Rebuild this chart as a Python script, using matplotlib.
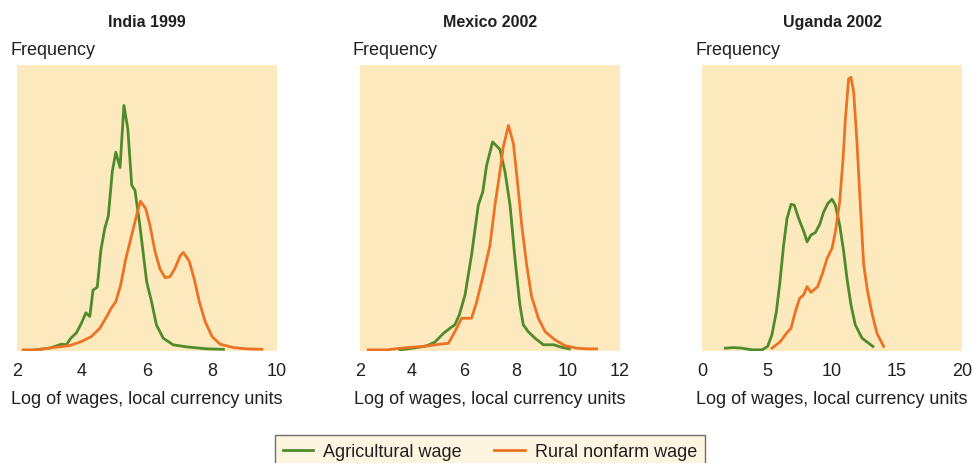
import matplotlib
matplotlib.use("Agg")
from matplotlib import pyplot as plt

plt.rcParams['font.family'] = ['Liberation Sans', 'DejaVu Sans']

GREEN = '#4f8a2b'
ORANGE = '#ec7324'
PANEL_BG = '#fce9bd'
LEGEND_BG = '#fef3da'

# India 1999
india_agri_x = [2.55, 3.0, 3.37, 3.52, 3.65, 3.83, 3.98, 4.12, 4.24, 4.34, 4.47, 4.58, 4.70, 4.81,
                4.93, 5.04, 5.17, 5.29, 5.41, 5.53, 5.63, 5.78, 5.99, 6.14, 6.29, 6.50, 6.81, 7.22,
                7.84, 8.35]
india_agri_y = [0.0, 0.006, 0.02, 0.018, 0.04, 0.06, 0.093, 0.13, 0.117, 0.21, 0.22, 0.35, 0.426,
                0.47, 0.624, 0.694, 0.64, 0.858, 0.776, 0.578, 0.56, 0.437, 0.239, 0.169, 0.0875,
                0.041, 0.0175, 0.0105, 0.0035, 0.002]
india_nonfarm_x = [2.19, 2.6, 3.11, 3.62, 3.98, 4.29, 4.55, 4.76, 4.91, 5.04, 5.19, 5.35, 5.53, 5.68,
                   5.80, 5.96, 6.09, 6.25, 6.40, 6.56, 6.71, 6.86, 7.02, 7.12, 7.30, 7.45, 7.61,
                   7.79, 8.0, 8.25, 8.66, 9.07, 9.54]
india_nonfarm_y = [0.0, 0.0, 0.008, 0.015, 0.029, 0.047, 0.076, 0.117, 0.148, 0.169, 0.228, 0.321,
                   0.403, 0.473, 0.522, 0.496, 0.438, 0.344, 0.284, 0.253, 0.257, 0.286, 0.33,
                   0.342, 0.311, 0.25, 0.169, 0.099, 0.047, 0.02, 0.008, 0.0035, 0.002]

# Mexico 2002
mexico_agri_x = [3.54, 4.05, 4.56, 4.88, 5.21, 5.46, 5.65, 5.82, 6.04, 6.29, 6.55, 6.72, 6.87, 7.10,
                 7.38, 7.58, 7.77, 7.96, 8.15, 8.28, 8.47, 8.73, 9.05, 9.44, 9.76, 10.05]
mexico_agri_y = [0.0, 0.006, 0.014, 0.027, 0.058, 0.076, 0.088, 0.123, 0.193, 0.333, 0.508, 0.554,
                 0.648, 0.73, 0.704, 0.624, 0.508, 0.321, 0.158, 0.088, 0.064, 0.041, 0.018,
                 0.018, 0.009, 0.0035]
mexico_nonfarm_x = [2.32, 3.03, 3.79, 4.31, 4.69, 5.08, 5.40, 5.65, 5.91, 6.29, 6.49, 6.74, 7.0,
                    7.19, 7.38, 7.51, 7.71, 7.90, 8.03, 8.22, 8.41, 8.60, 8.86, 9.12, 9.50, 9.88,
                    10.33, 10.72, 11.1]
mexico_nonfarm_y = [0.0, 0.0, 0.008, 0.011, 0.015, 0.02, 0.023, 0.064, 0.111, 0.111, 0.169, 0.263,
                    0.368, 0.508, 0.624, 0.712, 0.788, 0.724, 0.613, 0.438, 0.298, 0.187, 0.111,
                    0.064, 0.035, 0.015, 0.006, 0.0035, 0.0035]

# Uganda 2002
uganda_agri_x = [1.79, 2.44, 3.08, 3.85, 4.62, 5.05, 5.38, 5.72, 5.97, 6.28, 6.54, 6.85, 7.10, 7.44,
                 7.82, 8.08, 8.38, 8.72, 9.05, 9.36, 9.67, 10.0, 10.26, 10.59, 10.9, 11.15, 11.46,
                 11.79, 12.31, 13.15]
uganda_agri_y = [0.006, 0.008, 0.006, 0.0, 0.0, 0.012, 0.053, 0.134, 0.228, 0.368, 0.461, 0.511,
                 0.508, 0.461, 0.417, 0.379, 0.403, 0.412, 0.44, 0.484, 0.513, 0.529, 0.508,
                 0.438, 0.345, 0.251, 0.158, 0.088, 0.041, 0.012]
uganda_nonfarm_x = [5.38, 6.03, 6.49, 6.85, 7.18, 7.51, 7.82, 8.08, 8.38, 8.90, 9.31, 9.62, 10.0,
                    10.26, 10.59, 10.85, 11.03, 11.28, 11.46, 11.67, 11.92, 12.18, 12.44, 12.74,
                    13.08, 13.46, 13.97]
uganda_nonfarm_y = [0.006, 0.029, 0.058, 0.076, 0.134, 0.181, 0.193, 0.222, 0.202, 0.222, 0.274,
                    0.321, 0.356, 0.414, 0.519, 0.671, 0.811, 0.951, 0.957, 0.904, 0.729, 0.508,
                    0.298, 0.204, 0.128, 0.058, 0.012]

titles = ['India 1999', 'Mexico 2002', 'Uganda 2002']
xlims = [(2, 10), (2, 12), (0, 20)]
xticks = [[2, 4, 6, 8, 10], [2, 4, 6, 8, 10, 12], [0, 5, 10, 15, 20]]
series = [
    (india_agri_x, india_agri_y, india_nonfarm_x, india_nonfarm_y),
    (mexico_agri_x, mexico_agri_y, mexico_nonfarm_x, mexico_nonfarm_y),
    (uganda_agri_x, uganda_agri_y, uganda_nonfarm_x, uganda_nonfarm_y),
]
lefts = [17, 360, 702]

W, H = 972, 464
fig = plt.figure(figsize=(W / 100, H / 100), dpi=100)

for i in range(3):
    ax = fig.add_axes([lefts[i] / W, 112 / H, 260 / W, 286 / H])
    ax.set_facecolor(PANEL_BG)
    ax_x, ax_y, nf_x, nf_y = series[i]
    ax.plot(ax_x, ax_y, color=GREEN, lw=2.0, label='Agricultural wage')
    ax.plot(nf_x, nf_y, color=ORANGE, lw=2.0, label='Rural nonfarm wage')
    ax.set_xlim(*xlims[i])
    ax.set_ylim(-0.004, 1.0)
    ax.set_xticks(xticks[i])
    ax.set_yticks([])
    ax.tick_params(axis='x', length=0, pad=8, labelsize=13, labelcolor='#231f20')
    for s in ax.spines.values():
        s.set_visible(False)
    ax.set_xlabel('Log of wages, local currency units', fontsize=13, color='#231f20', labelpad=8)
    cx = (lefts[i] + 130) / W
    fig.text(cx, 1 - 27 / H, titles[i], ha='center', va='baseline', fontsize=11.5,
             fontweight='bold', color='#231f20')
    fig.text((lefts[i] - 7) / W, 1 - 55 / H, 'Frequency', ha='left', va='baseline',
             fontsize=13, color='#231f20')
    if i == 0:
        handles, labels = ax.get_legend_handles_labels()

leg = fig.legend(handles, labels, loc='upper center', bbox_to_anchor=(490 / W, 1 - 427 / H),
                 ncol=2, frameon=True, fontsize=13, handlelength=1.7, handletextpad=0.55,
                 columnspacing=1.8, borderpad=0.45, fancybox=False)
leg.get_frame().set_facecolor(LEGEND_BG)
leg.get_frame().set_edgecolor('#4a4a4a')
leg.get_frame().set_linewidth(1.0)
for t in leg.get_texts():
    t.set_color('#231f20')

fig.savefig('out.png', dpi=100)
